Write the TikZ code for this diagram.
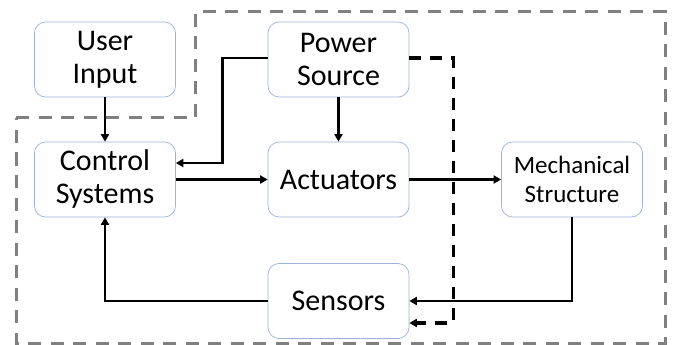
\documentclass[tikz,border=0pt]{standalone}
\usepackage{fontspec}
\setmainfont{Carlito}
\usetikzlibrary{arrows.meta}
\definecolor{boxline}{HTML}{9DB3DC}
\definecolor{zoneline}{HTML}{808080}
\tikzset{
  block/.style={draw=boxline, line width=0.7pt, rounded corners=11pt, fill=white,
    minimum width=141pt, minimum height=75pt, align=center, inner sep=0pt,
    font=\fontsize{30}{33}\selectfont},
  smallblock/.style={block, font=\fontsize{25}{29}\selectfont},
  flow/.style={line width=2.8pt, -{Triangle[length=7.5pt,width=8pt]}},
  dflow/.style={flow, line width=3.2pt, dash pattern=on 12pt off 9pt},
  zone/.style={draw=zoneline, line width=3pt, dash pattern=on 13pt off 9.5pt}
}
\begin{document}
\begin{tikzpicture}[x=1pt,y=-1pt]
\useasboundingbox (0,0) rectangle (673,345);
% system boundary
\draw[zone] (16,118) -- (195,118) -- (195,12) -- (665,12) -- (665,343) -- (16,343) -- cycle;
% blocks
\node[block] (user) at (105,59.5) {User\\Input};
\node[block] (power) at (338.5,59.5) {Power\\Source};
\node[block] (control) at (105,179.5) {Control\\Systems};
\node[block] (act) at (338.5,179.5) {Actuators};
\node[smallblock] (mech) at (572,179.5) {Mechanical\\Structure};
\node[block] (sens) at (338.5,301) {Sensors};
% connections
\draw[flow] (user) -- (control);
\draw[flow] (power) -- (act);
\draw[flow] (control) -- (act);
\draw[flow] (act) -- (mech);
\draw[flow] ([yshift=1.5pt]power.west) -- ++(-45,0) |- ([yshift=16.5pt]control.east);
\draw[flow] (mech.south) |- (sens.east);
\draw[flow] (sens.west) -| (control.south);
\draw[dflow] ([yshift=1.5pt]power.east) -- ++(44,0) |- ([yshift=-22pt]sens.east);
\end{tikzpicture}
\end{document}
